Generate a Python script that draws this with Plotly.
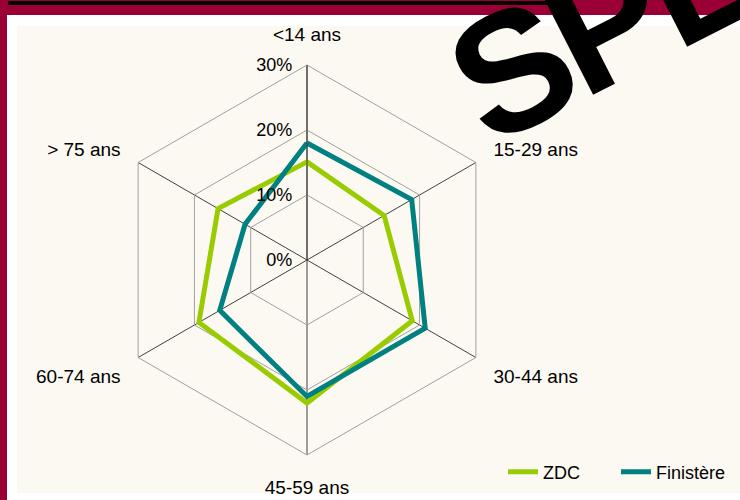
import plotly.graph_objects as go

categories = ["<14 ans", "15-29 ans", "30-44 ans", "45-59 ans", "60-74 ans", "> 75 ans"]
zdc = [15.1, 13.7, 18.7, 22.0, 19.2, 15.8]
finistere = [18.0, 18.6, 21.0, 21.0, 15.5, 11.0]
radial_ticks = [0, 10, 20, 30]
radial_labels = ["0%", "10%", "20%", "30%"]

W, H = 740, 500
FONT = "Liberation Sans, Arial, sans-serif"
R_MAX = 30

fig = go.Figure()
fig.add_trace(go.Scatterpolar(
    r=zdc + zdc[:1], theta=categories + categories[:1], mode="lines",
    name="ZDC", line=dict(color="#99CC00", width=5)))
fig.add_trace(go.Scatterpolar(
    r=finistere + finistere[:1], theta=categories + categories[:1], mode="lines",
    name="Finistère", line=dict(color="#008080", width=5)))

cx, cy, R = 307, 260, 195
fig.update_layout(
    width=W, height=H,
    margin=dict(l=0, r=0, t=0, b=0),
    paper_bgcolor="#9A0036",
    font=dict(family=FONT, color="#000000"),
    polar=dict(
        domain=dict(x=[(cx - R) / W, (cx + R) / W], y=[1 - (cy + R) / H, 1 - (cy - R) / H]),
        bgcolor="rgba(0,0,0,0)",
        gridshape="linear",
        angularaxis=dict(
            direction="clockwise", rotation=90, categoryorder="array",
            categoryarray=categories,
            showline=True, linecolor="#A0A0A0", linewidth=1,
            gridcolor="#404040", gridwidth=1,
            ticks="outside", ticklen=16, tickcolor="rgba(0,0,0,0)",
            tickfont=dict(size=19, family=FONT, color="#000"),
        ),
        radialaxis=dict(
            range=[0, R_MAX], tickvals=radial_ticks, ticktext=radial_labels,
            angle=90, tickangle=90, side="counterclockwise",
            showline=True, linecolor="#404040", linewidth=1,
            gridcolor="#A0A0A0", gridwidth=1,
            ticks="outside", ticklen=8, tickcolor="rgba(0,0,0,0)",
            tickfont=dict(size=18, family=FONT, color="#000"),
        ),
    ),
    legend=dict(
        orientation="h", x=503 / W, xanchor="left", y=28 / H, yanchor="middle",
        bgcolor="rgba(0,0,0,0)", font=dict(size=18, family=FONT, color="#000"),
        entrywidth=68, entrywidthmode="pixels", tracegroupgap=0,
    ),
    shapes=[
        dict(type="rect", xref="paper", yref="paper", x0=7 / W, x1=1, y0=0, y1=1 - 15 / H,
             fillcolor="#FFFFFF", line=dict(width=0), layer="below"),
        dict(type="rect", xref="paper", yref="paper", x0=17 / W, x1=1, y0=7 / H, y1=1 - 26 / H,
             fillcolor="#FCF9F2", line=dict(width=0), layer="below"),
        dict(type="rect", xref="paper", yref="paper", x0=8 / W, x1=548 / W, y0=1 - 5 / H, y1=1 - 1 / H,
             fillcolor="#000000", line=dict(width=0), layer="below"),
    ],
)

wm = [("S", 512, 70), ("P", 606, 22), ("E", 700, -26)]
for ch, px, py in wm:
    fig.add_annotation(
        text=ch, x=px / W, y=1 - py / H, xref="paper", yref="paper",
        xanchor="center", yanchor="middle", showarrow=False, textangle=-27,
        font=dict(size=170, family="Liberation Sans, Arial, sans-serif",
                  color="#000000", weight="bold"),
    )

fig.write_html("out.html")
